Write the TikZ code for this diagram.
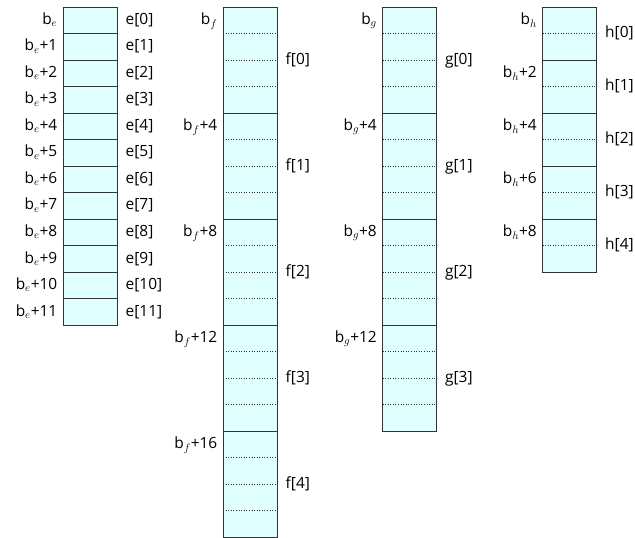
\documentclass[tikz,border=0pt]{standalone}
\usepackage{fontspec}
\setmainfont{Open Sans}
\usetikzlibrary{calc}
\definecolor{cellCyan}{HTML}{E0FFFF}
\definecolor{ink}{HTML}{333333}

\begin{document}
\begin{tikzpicture}[x=1bp,y=-1bp,font=\fontsize{15.5}{18}\selectfont,
  cellbox/.style={draw=ink,fill=cellCyan,line width=0.8bp,minimum width=54bp,inner sep=0pt,outer sep=0pt},
  addr/.style={anchor=east,inner sep=0pt,text height=11.5bp,text depth=3bp},
  item/.style={anchor=west,inner sep=0pt,text height=11.5bp,text depth=3bp},
  sep/.style={ink,dotted,line width=0.6bp}]
\useasboundingbox (0,0) rectangle (635,538);
% one column per array: name / centre x / number of elements / cells per element
\foreach \col/\cx/\nb/\bs in {e/90/12/1,f/250/5/4,g/409.5/4/4,h/569.5/5/2}{
  \pgfmathtruncatemacro\last{\nb-1}
  \pgfmathtruncatemacro\inner{\bs-1}
  \foreach \k in {0,...,\last}{
    \pgfmathtruncatemacro\off{\k*\bs}
    \node[cellbox,minimum height=\bs*26.5bp] (\col\k) at (\cx,{7+(\k+0.5)*\bs*26.5}) {};
    \ifnum\bs>1
      \foreach \j in {1,...,\inner}{
        \draw[sep] ($(\col\k.north west)!\j/\bs!(\col\k.south west)$) -- ($(\col\k.north east)!\j/\bs!(\col\k.south east)$);
      }
    \fi
    \node[addr] (\col\k l) at ($(\col\k.north west)+(-5.5,13.25)$) {\ifnum\k=0 b$_\col$\else b$_\col$+\off\fi};
    \node[item] (\col\k r) at ($(\col\k.east)+(8.5,0)$) {\col[\k]};
  }
}
\end{tikzpicture}
\end{document}
